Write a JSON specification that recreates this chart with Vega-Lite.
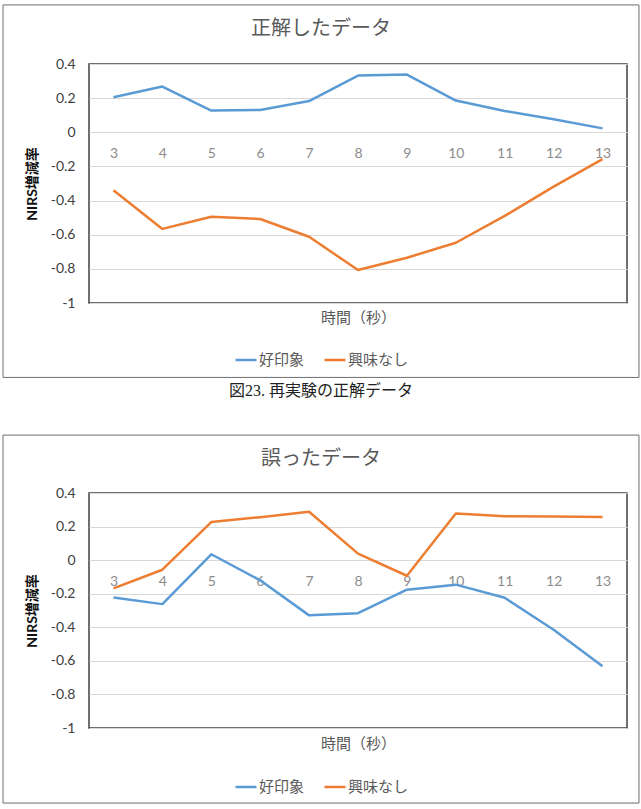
{
  "$schema": "https://vega.github.io/schema/vega-lite/v6.json",
  "padding": {"left": 1, "top": 3, "right": 0, "bottom": 0},
  "background": "white",
  "spacing": 190,
  "bounds": "flush",
  "resolve": {"legend": {"color": "independent"}},
  "config": {
    "font": "Lato, 'Noto Sans CJK JP', sans-serif",
    "view": {"stroke": "#404040", "strokeWidth": 1.5}
  },
  "datasets": {
    "correct": [
      {"t": 3, "series": "好印象", "v": 0.205},
      {"t": 4, "series": "好印象", "v": 0.268},
      {"t": 5, "series": "好印象", "v": 0.127},
      {"t": 6, "series": "好印象", "v": 0.131},
      {"t": 7, "series": "好印象", "v": 0.183},
      {"t": 8, "series": "好印象", "v": 0.332},
      {"t": 9, "series": "好印象", "v": 0.338},
      {"t": 10, "series": "好印象", "v": 0.186},
      {"t": 11, "series": "好印象", "v": 0.125},
      {"t": 12, "series": "好印象", "v": 0.076},
      {"t": 13, "series": "好印象", "v": 0.023},
      {"t": 3, "series": "興味なし", "v": -0.34},
      {"t": 4, "series": "興味なし", "v": -0.566},
      {"t": 5, "series": "興味なし", "v": -0.495},
      {"t": 6, "series": "興味なし", "v": -0.508},
      {"t": 7, "series": "興味なし", "v": -0.612},
      {"t": 8, "series": "興味なし", "v": -0.807},
      {"t": 9, "series": "興味なし", "v": -0.735},
      {"t": 10, "series": "興味なし", "v": -0.647},
      {"t": 11, "series": "興味なし", "v": -0.49},
      {"t": 12, "series": "興味なし", "v": -0.318},
      {"t": 13, "series": "興味なし", "v": -0.157}
    ],
    "wrong": [
      {"t": 3, "series": "好印象", "v": -0.223},
      {"t": 4, "series": "好印象", "v": -0.262},
      {"t": 5, "series": "好印象", "v": 0.035},
      {"t": 6, "series": "好印象", "v": -0.12},
      {"t": 7, "series": "好印象", "v": -0.329},
      {"t": 8, "series": "好印象", "v": -0.316},
      {"t": 9, "series": "好印象", "v": -0.176},
      {"t": 10, "series": "好印象", "v": -0.146},
      {"t": 11, "series": "好印象", "v": -0.224},
      {"t": 12, "series": "好印象", "v": -0.415},
      {"t": 13, "series": "好印象", "v": -0.632},
      {"t": 3, "series": "興味なし", "v": -0.168},
      {"t": 4, "series": "興味なし", "v": -0.057},
      {"t": 5, "series": "興味なし", "v": 0.227},
      {"t": 6, "series": "興味なし", "v": 0.256},
      {"t": 7, "series": "興味なし", "v": 0.288},
      {"t": 8, "series": "興味なし", "v": 0.039},
      {"t": 9, "series": "興味なし", "v": -0.093},
      {"t": 10, "series": "興味なし", "v": 0.278},
      {"t": 11, "series": "興味なし", "v": 0.262},
      {"t": 12, "series": "興味なし", "v": 0.26},
      {"t": 13, "series": "興味なし", "v": 0.257}
    ]
  },
  "vconcat": [
    {
      "width": 538,
      "height": 239,
      "layer": [
        {
          "data": {"name": "correct"},
          "mark": {"type": "line", "strokeWidth": 2.5, "strokeJoin": "round"},
          "encoding": {
            "x": {
              "field": "t", "type": "quantitative",
              "scale": {"domain": [2.5, 13.5], "nice": false, "zero": false},
              "axis": {
                "values": [3, 4, 5, 6, 7, 8, 9, 10, 11, 12, 13], "tickCount": 20, "format": "d",
                "title": "時間（秒）", "offset": -170.7,
                "grid": false, "domain": false, "ticks": false, "labelFlush": false, "labelOverlap": false,
                "labelBaseline": "middle", "labelPadding": 21,
                "labelFontSize": 14, "labelColor": "#8c8c8c",
                "titleY": 185, "titleBaseline": "middle",
                "titleFontSize": 15, "titleColor": "#595959", "titleFontWeight": "normal"
              }
            },
            "y": {
              "field": "v", "type": "quantitative",
              "scale": {"domain": [-1, 0.4], "nice": false, "zero": false},
              "axis": {
                "values": [-1, -0.8, -0.6, -0.4, -0.2, 0, 0.2, 0.4], "tickCount": 20,
                "labelExpr": "(datum.value < 0 ? '-' : '') + format(abs(datum.value), '~g')",
                "labelOverlap": false, "labelFlush": false,
                "grid": true, "gridColor": "#d9d9d9", "domain": false, "ticks": false,
                "labelPadding": 14, "labelFontSize": 14, "labelColor": "#404040",
                "title": "NIRS増減率", "titleFontSize": 14, "titleFontWeight": "bold",
                "titleColor": "#111111", "titlePadding": 11
              }
            },
            "color": {
              "field": "series", "type": "nominal",
              "scale": {"domain": ["好印象", "興味なし"], "range": ["#5B9BD5", "#ED7D31"]},
              "legend": {
                "orient": "none", "direction": "horizontal", "legendX": 145, "legendY": 284,
                "title": null, "symbolType": "stroke", "symbolSize": 441, "symbolStrokeWidth": 2.5,
                "labelFontSize": 15, "labelColor": "#595959", "labelOffset": 1, "columnPadding": 14
              }
            }
          }
        },
        {
          "data": {"values": [{"part": "chart area"}]},
          "mark": {"type": "rect", "fillOpacity": 0, "stroke": "#6e6e6e", "strokeWidth": 1},
          "encoding": {
            "x": {"datum": 0.742, "type": "quantitative"},
            "x2": {"datum": 13.745},
            "y": {"datum": 0.746, "type": "quantitative"},
            "y2": {"datum": -1.436}
          }
        },
        {
          "data": {"values": [{"label": "正解したデータ"}]},
          "mark": {"type": "text", "fontSize": 20, "color": "#595959", "align": "center", "baseline": "middle"},
          "encoding": {
            "text": {"field": "label"},
            "x": {"datum": 7.243, "type": "quantitative"},
            "y": {"datum": 0.605, "type": "quantitative"}
          }
        },
        {
          "data": {"values": [{"label": "図23. 再実験の正解データ"}]},
          "mark": {"type": "text", "fontSize": 16, "color": "#222222", "align": "center", "baseline": "middle", "font": "'Liberation Serif', 'Noto Sans CJK JP', serif"},
          "encoding": {
            "text": {"field": "label"},
            "x": {"datum": 7.243, "type": "quantitative"},
            "y": {"datum": -1.516, "type": "quantitative"}
          }
        }
      ]
    },
    {
      "width": 538,
      "height": 235,
      "layer": [
        {
          "data": {"name": "wrong"},
          "mark": {"type": "line", "strokeWidth": 2.5, "strokeJoin": "round"},
          "encoding": {
            "x": {
              "field": "t", "type": "quantitative",
              "scale": {"domain": [2.5, 13.5], "nice": false, "zero": false},
              "axis": {
                "values": [3, 4, 5, 6, 7, 8, 9, 10, 11, 12, 13], "tickCount": 20, "format": "d",
                "title": "時間（秒）", "offset": -167.8,
                "grid": false, "domain": false, "ticks": false, "labelFlush": false, "labelOverlap": false,
                "labelBaseline": "middle", "labelPadding": 21,
                "labelFontSize": 14, "labelColor": "#8c8c8c",
                "titleY": 183, "titleBaseline": "middle",
                "titleFontSize": 15, "titleColor": "#595959", "titleFontWeight": "normal"
              }
            },
            "y": {
              "field": "v", "type": "quantitative",
              "scale": {"domain": [-1, 0.4], "nice": false, "zero": false},
              "axis": {
                "values": [-1, -0.8, -0.6, -0.4, -0.2, 0, 0.2, 0.4], "tickCount": 20,
                "labelExpr": "(datum.value < 0 ? '-' : '') + format(abs(datum.value), '~g')",
                "labelOverlap": false, "labelFlush": false,
                "grid": true, "gridColor": "#d9d9d9", "domain": false, "ticks": false,
                "labelPadding": 14, "labelFontSize": 14, "labelColor": "#404040",
                "title": "NIRS増減率", "titleFontSize": 14, "titleFontWeight": "bold",
                "titleColor": "#111111", "titlePadding": 11
              }
            },
            "color": {
              "field": "series", "type": "nominal",
              "scale": {"domain": ["好印象", "興味なし"], "range": ["#5B9BD5", "#ED7D31"]},
              "legend": {
                "orient": "none", "direction": "horizontal", "legendX": 145, "legendY": 282,
                "title": null, "symbolType": "stroke", "symbolSize": 441, "symbolStrokeWidth": 2.5,
                "labelFontSize": 15, "labelColor": "#595959", "labelOffset": 1, "columnPadding": 14
              }
            }
          }
        },
        {
          "data": {"values": [{"part": "chart area"}]},
          "mark": {"type": "rect", "fillOpacity": 0, "stroke": "#6e6e6e", "strokeWidth": 1},
          "encoding": {
            "x": {"datum": 0.742, "type": "quantitative"},
            "x2": {"datum": 13.745},
            "y": {"datum": 0.745, "type": "quantitative"},
            "y2": {"datum": -1.447}
          }
        },
        {
          "data": {"values": [{"label": "誤ったデータ"}]},
          "mark": {"type": "text", "fontSize": 20, "color": "#595959", "align": "center", "baseline": "middle"},
          "encoding": {
            "text": {"field": "label"},
            "x": {"datum": 7.243, "type": "quantitative"},
            "y": {"datum": 0.6025, "type": "quantitative"}
          }
        }
      ]
    }
  ]
}
